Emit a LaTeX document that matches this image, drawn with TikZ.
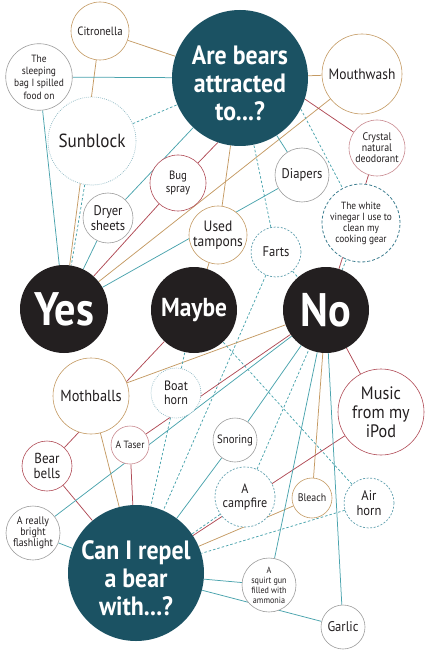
\documentclass[tikz,border=0pt]{standalone}
\usepackage{fontspec}
\setmainfont{PT Sans}[FakeStretch=0.9]
\usetikzlibrary{backgrounds}
\definecolor{qfill}{HTML}{1B5263}
\definecolor{afill}{HTML}{231F20}
\definecolor{txt}{HTML}{231F20}
\definecolor{tealc}{HTML}{4AA3AD}
\definecolor{tanc}{HTML}{C49A63}
\definecolor{redc}{HTML}{B04A55}
\definecolor{pinkc}{HTML}{C98A90}
\definecolor{grayc}{HTML}{9E9E9E}
\definecolor{dotc}{HTML}{8FB9C4}
\definecolor{dashc}{HTML}{5F9FAE}
\definecolor{vinc}{HTML}{3F7F91}
\newcommand\fsz[2]{\fontsize{#1}{#2}\selectfont}
\tikzset{
  item/.style={circle, draw=#1, fill=white, line width=0.6pt, inner sep=0pt, align=center, text=txt},
  dotitem/.style={item=dotc, dash pattern=on 0.8pt off 1.2pt, line width=0.7pt},
  dashitem/.style={item=dashc, dash pattern=on 2pt off 1.6pt, line width=0.7pt},
  vinitem/.style={item=vinc, dash pattern=on 3pt off 2pt, line width=0.8pt},
  question/.style={circle, fill=qfill, inner sep=0pt},
  qtext/.style={text=white, align=center, font=\bfseries\fsz{26.5}{28}},
  answer/.style={circle, fill=afill, inner sep=0pt, align=center, text=white},
  tline/.style={draw=tealc, line width=0.75pt},
  nline/.style={draw=tanc, line width=0.75pt},
  rline/.style={draw=redc, line width=0.75pt},
  dline/.style={draw=tealc, line width=0.75pt, dash pattern=on 2.5pt off 2pt},
}
\begin{document}
\begin{tikzpicture}[x=1pt,y=-1pt]
\useasboundingbox (0,0) rectangle (445,652);
% questions and answers
\node[question, minimum size=136pt] (q1) at (240,78) {};
\node[qtext] (q1t) at (240,83) {Are bears\\attracted\\to...?};
\node[question, minimum size=136pt] (q2) at (136,573) {};
\node[qtext] (q2t) at (136,578) {Can I repel\\a bear\\with...?};
\node[answer, minimum size=88pt, font=\bfseries\fsz{47}{47}] (yes) at (64,309) {Yes};
\node[answer, minimum size=86pt, font=\bfseries\fsz{26}{26}] (maybe) at (194,310) {Maybe};
\node[answer, minimum size=86pt, font=\bfseries\fsz{47}{47}] (no) at (326,310) {No};
% top items
\node[item=tanc, minimum size=58pt, font=\fsz{12}{13}] (cit) at (100,31) {Citronella};
\node[item=grayc, minimum size=60pt, font=\fsz{10.5}{12.3}] (sleep) at (39,77) {The\\sleeping\\bag I spilled\\food on};
\node[dotitem, minimum size=88pt, font=\fsz{19}{20}] (sun) at (92,141) {Sunblock};
\node[item=redc, minimum size=56pt, font=\fsz{12}{13.5}] (bug) at (178,183) {Bug\\spray};
\node[item=grayc, minimum size=50pt, font=\fsz{14}{14.5}] (dryer) at (108,218) {Dryer\\sheets};
\node[item=tanc, minimum size=80pt, font=\fsz{15}{16}] (mouth) at (362,74) {Mouthwash};
\node[item=pinkc, minimum size=56pt, font=\fsz{11}{11}] (crys) at (377,148) {Crystal\\natural\\deodorant};
\node[item=grayc, minimum size=54pt, font=\fsz{14}{15}] (diap) at (302,175) {Diapers};
\node[vinitem, minimum size=78pt, font=\fsz{10.4}{11}] (vin) at (361,223) {The white\\vinegar I use to\\clean my\\cooking gear};
\node[item=tanc, minimum size=58pt, font=\fsz{15}{15.5}] (tamp) at (218,235) {Used\\tampons};
\node[dashitem, minimum size=50pt, font=\fsz{14}{15}] (farts) at (276,252) {Farts};
% bottom items
\node[item=tanc, minimum size=76pt, font=\fsz{16}{17}] (moth) at (91,396) {Mothballs};
\node[dotitem, minimum size=50pt, font=\fsz{13.5}{14.5}] (boat) at (176,393) {Boat\\horn};
\node[item=pinkc, minimum size=38pt, font=\fsz{10.5}{11}] (taser) at (130,445) {A Taser};
\node[item=grayc, minimum size=44pt, font=\fsz{12}{13}] (snore) at (235,440) {Snoring};
\node[dashitem, minimum size=60pt, font=\fsz{13.5}{14.5}] (camp) at (245,497) {A\\campfire};
\node[item=tanc, minimum size=40pt, font=\fsz{11}{12}] (bleach) at (312,498) {Bleach};
\node[dashitem, minimum size=50pt, font=\fsz{14}{15}] (air) at (369,503) {Air\\horn};
\node[item=redc, minimum size=86pt, font=\fsz{18}{19}] (ipod) at (381,412) {Music\\from my\\iPod};
\node[item=redc, minimum size=50pt, font=\fsz{14.5}{15}] (bells) at (47,466) {Bear\\bells};
\node[item=grayc, minimum size=54pt, font=\fsz{11}{11}] (flash) at (33,533) {A really\\bright\\flashlight};
\node[item=grayc, minimum size=54pt, font=\fsz{9}{10}] (squirt) at (269,585) {A\\squirt gun\\filled with\\ammonia};
\node[item=grayc, minimum size=44pt, font=\fsz{14}{15}] (garlic) at (343,627) {Garlic};
% connectors
\begin{scope}[on background layer]
\draw[nline] (cit) -- (q1);
\draw[nline] (cit) -- (yes);
\draw[tline] (sleep) -- (q1);
\draw[tline] (sleep) -- (yes);
\draw[dline] (sun) -- (q1);
\draw[dline] (sun) -- (yes);
\draw[tline] (dryer) -- (q1);
\draw[tline] (dryer) -- (yes);
\draw[rline] (bug.45) -- (q1.-109);
\draw[rline] (bug) -- (yes);
\draw[nline] (mouth) -- (q1);
\draw[nline] (mouth) -- (yes);
\draw[tline] (diap) -- (q1);
\draw[tline] (diap) -- (yes);
\draw[nline] (tamp) -- (q1);
\draw[nline] (tamp) -- (maybe);
\draw[rline] (q1.-18) -- (crys);
\draw[rline] (crys) -- (no);
\draw[dline] (q1.-27) -- (vin);
\draw[dline] (vin) -- (no);
\draw[dline] (farts) -- (q1);
\draw[dline] (farts) -- (no);
\draw[dline] (farts) -- (q2);
\draw[nline] (moth) -- (q2);
\draw[nline] (moth) -- (no);
\draw[rline] (bells) -- (q2);
\draw[rline] (bells) -- (maybe);
\draw[dline] (boat) -- (q2);
\draw[dline] (boat) -- (maybe);
\draw[rline] (taser) -- (q2);
\draw[rline] (taser) -- (no);
\draw[tline] (flash) -- (q2);
\draw[tline] (flash) -- (no);
\draw[tline] (snore) -- (q2);
\draw[tline] (snore) -- (no);
\draw[dline] (camp) -- (q2);
\draw[dline] (camp) -- (no);
\draw[nline] (bleach) -- (q2);
\draw[nline] (bleach) -- (no);
\draw[dline] (air) -- (q2);
\draw[dline] (air) -- (maybe);
\draw[rline] (ipod) -- (q2);
\draw[rline] (ipod) -- (no);
\draw[tline] (squirt) -- (q2);
\draw[tline] (squirt) -- (no);
\draw[tline] (garlic) -- (q2);
\draw[tline] (garlic) -- (no);
\end{scope}
\end{tikzpicture}
\end{document}
